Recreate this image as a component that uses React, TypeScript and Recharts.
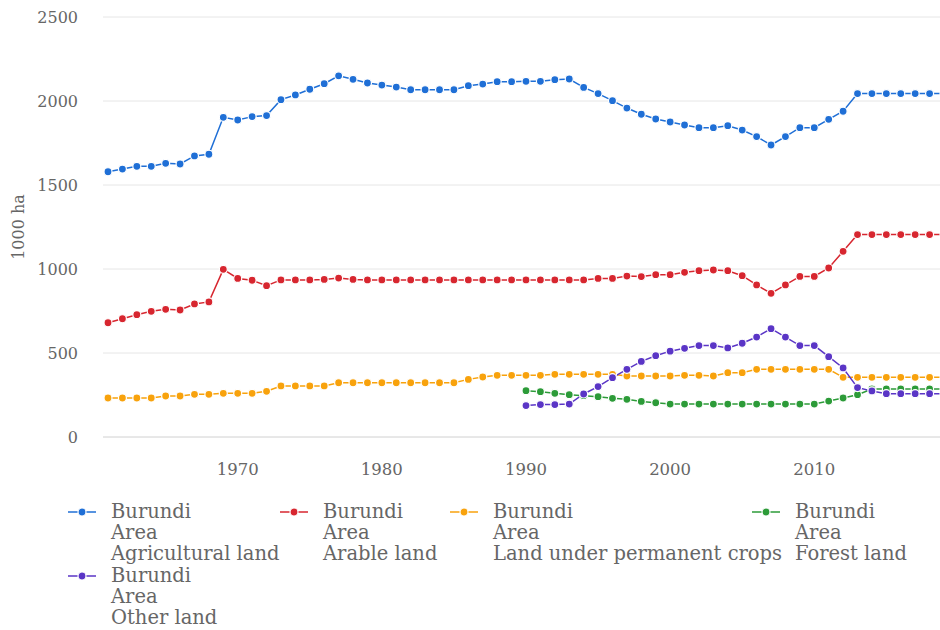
import React from 'react';
import { LineChart, Line, XAxis, YAxis, CartesianGrid, Legend } from 'recharts';

const years = [
  1961, 1962, 1963, 1964, 1965, 1966, 1967, 1968, 1969, 1970,
  1971, 1972, 1973, 1974, 1975, 1976, 1977, 1978, 1979, 1980,
  1981, 1982, 1983, 1984, 1985, 1986, 1987, 1988, 1989, 1990,
  1991, 1992, 1993, 1994, 1995, 1996, 1997, 1998, 1999, 2000,
  2001, 2002, 2003, 2004, 2005, 2006, 2007, 2008, 2009, 2010,
  2011, 2012, 2013, 2014, 2015, 2016, 2017, 2018, 2019,
];

const agriculturalLand = [
  1579, 1595, 1611, 1611, 1629, 1625, 1673, 1683, 1903, 1887,
  1907, 1913, 2008, 2036, 2070, 2103, 2150, 2129, 2107, 2095,
  2083, 2067, 2067, 2067, 2067, 2091, 2101, 2115, 2115, 2117,
  2117, 2127, 2131, 2081, 2044, 2002, 1958, 1921, 1893, 1875,
  1857, 1841, 1841, 1853, 1827, 1788, 1738, 1788, 1841, 1841,
  1891, 1939, 2044, 2044, 2044, 2044, 2044, 2044, 2044,
];

const arableLand = [
  680, 704, 728, 748, 760, 756, 792, 804, 998, 944,
  933, 901, 935, 935, 935, 938, 946, 938, 935, 935,
  935, 935, 935, 935, 935, 935, 935, 935, 935, 935,
  935, 935, 935, 935, 944, 944, 958, 955, 966, 966,
  980, 990, 994, 990, 960, 905, 855, 905, 956, 956,
  1006, 1105, 1205, 1205, 1205, 1205, 1205, 1205, 1205,
];

const permanentCrops = [
  232, 232, 232, 232, 244, 244, 254, 254, 260, 260,
  260, 272, 304, 304, 304, 304, 323, 323, 323, 323,
  323, 323, 323, 323, 323, 343, 357, 367, 367, 367,
  367, 373, 373, 373, 373, 373, 363, 363, 363, 363,
  367, 367, 363, 383, 383, 403, 403, 403, 403, 403,
  403, 355, 355, 355, 355, 355, 355, 355, 355,
];

const forestLand = [
  null, null, null, null, null, null, null, null, null, null,
  null, null, null, null, null, null, null, null, null, null,
  null, null, null, null, null, null, null, null, null, 276,
  270, 260, 252, 246, 240, 230, 224, 212, 204, 196,
  196, 196, 196, 196, 196, 196, 196, 196, 196, 196,
  214, 232, 252, 286, 286, 286, 286, 286, 286,
];

const otherLand = [
  null, null, null, null, null, null, null, null, null, null,
  null, null, null, null, null, null, null, null, null, null,
  null, null, null, null, null, null, null, null, null, 187,
  193, 193, 196, 256, 300, 353, 403, 450, 484, 511,
  528, 544, 544, 530, 558, 595, 645, 595, 544, 544,
  478, 411, 294, 274, 258, 258, 258, 258, 258,
];

const xTicks = [1970, 1980, 1990, 2000, 2010];
const yTicks = [0, 500, 1000, 1500, 2000, 2500];

const seriesKeys = ['agri', 'arable', 'perm', 'forest', 'other'];
const seriesNames = [
  'Burundi\nArea\nAgricultural land',
  'Burundi\nArea\nArable land',
  'Burundi\nArea\nLand under permanent crops',
  'Burundi\nArea\nForest land',
  'Burundi\nArea\nOther land',
];
const seriesColors = ['#1f6fd6', '#d7262f', '#f8a20c', '#2c9b38', '#5a35c6'];

const data = years.map((year, i) => ({
  year,
  agri: agriculturalLand[i],
  arable: arableLand[i],
  perm: permanentCrops[i],
  forest: forestLand[i],
  other: otherLand[i],
}));

const legendPositions = [
  { left: 68, top: 501 },
  { left: 280, top: 501 },
  { left: 450, top: 501 },
  { left: 752, top: 501 },
  { left: 68, top: 565 },
];

const FONT = "'DejaVu Serif', serif";
const TEXT = '#666666';

const LegendContent = () => (
  <div style={{ position: 'relative', height: 0, width: 940 }}>
    {seriesNames.map((name, i) => {
      const pos = legendPositions[i];
      const color = seriesColors[i];
      return (
        <div key={i} style={{ position: 'absolute', left: pos.left, top: pos.top, whiteSpace: 'nowrap' }}>
          <svg width={28} height={10} style={{ position: 'absolute', left: 0, top: 5.5 }}>
            <line x1={0} y1={5} x2={28} y2={5} stroke={color} strokeWidth={1.5} />
            <circle cx={14} cy={5} r={4} fill={color} stroke="#fff" strokeWidth={1.2} />
          </svg>
          <div style={{ position: 'absolute', left: 43, top: 0, fontFamily: FONT, fontSize: 19.5, lineHeight: '21px', color: TEXT }}>
            {name.split('\n').map((line, j) => (
              <div key={j} style={{ height: 21 }}>{line}</div>
            ))}
          </div>
        </div>
      );
    })}
  </div>
);

export default function App() {
  return (
    <div style={{ position: 'absolute', left: 0, top: 0, width: 940, height: 630, overflow: 'hidden', background: '#fff' }}>
      <LineChart
        width={952}
        height={630}
        data={data}
        margin={{ top: 17, right: 5, bottom: 163, left: 0 }}
      >
        <CartesianGrid vertical={false} stroke="#e6e6e6" />
        <XAxis
          dataKey="year"
          type="number"
          domain={[1961, 2019]}
          ticks={xTicks}
          padding={{ left: 5, right: 3 }}
          height={30}
          tickLine={false}
          tickMargin={20}
          axisLine={{ stroke: '#dcdcdc' }}
          tick={{ fill: TEXT, fontSize: 16.5, fontFamily: FONT }}
        />
        <YAxis
          type="number"
          domain={[0, 2500]}
          ticks={yTicks}
          width={103}
          axisLine={false}
          tickLine={false}
          tickMargin={19}
          tick={{ fill: TEXT, fontSize: 16, fontFamily: FONT }}
          label={{
            value: '1000 ha',
            angle: -90,
            position: 'insideLeft',
            offset: 18,
            style: { textAnchor: 'middle', fill: TEXT, fontSize: 16, fontFamily: FONT },
          }}
        />
        <Legend
          content={LegendContent}
          wrapperStyle={{ position: 'absolute', left: 0, top: 0, width: 940, height: 0, margin: 0, padding: 0 }}
        />
        {seriesKeys.map((key, i) => (
          <Line
            key={key}
            type="linear"
            dataKey={key}
            name={seriesNames[i]}
            stroke={seriesColors[i]}
            strokeWidth={1.5}
            dot={{ r: 4, fill: seriesColors[i], stroke: '#fff', strokeWidth: 1.2 }}
            activeDot={false}
            isAnimationActive={false}
          />
        ))}
      </LineChart>
    </div>
  );
}
